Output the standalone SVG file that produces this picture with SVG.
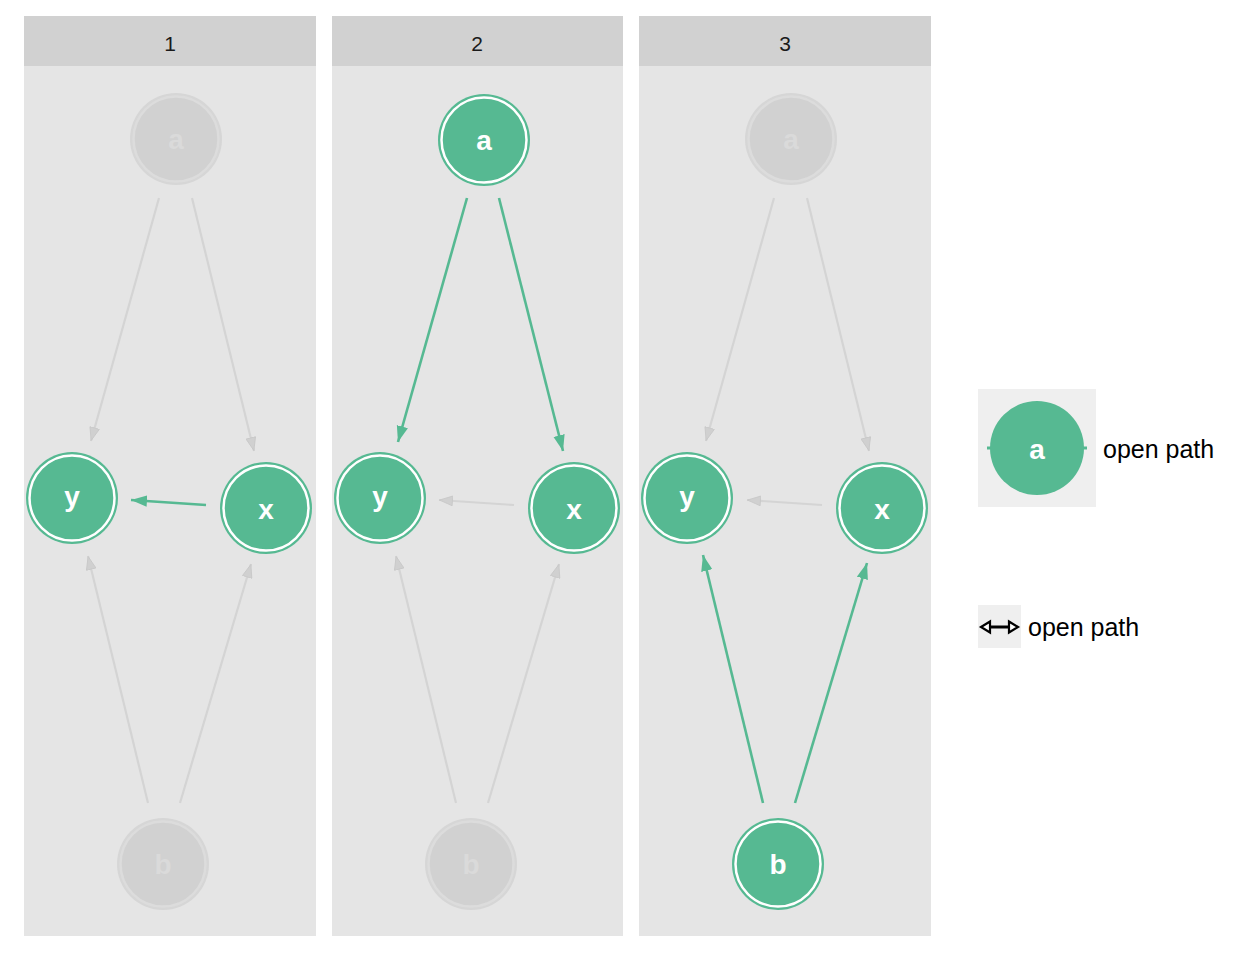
<svg xmlns="http://www.w3.org/2000/svg" width="1248" height="960" viewBox="0 0 1248 960">
  <style>
    .panel { fill: #E5E5E5; }
    .strip { fill: #D1D1D1; }
    .strip-text { fill: #1A1A1A; text-anchor: middle; }
    .on-outer { fill: #56B992; }
    .on-ring { fill: #56B992; stroke: #FFFFFF; stroke-width: 2.5; }
    .on-label { font-weight: bold; fill: #FFFFFF; text-anchor: middle; }
    .off-outer { fill: #D6D6D6; }
    .off-ring { fill: #D1D1D1; stroke: #DCDCDC; stroke-width: 2.5; }
    .off-label { font-weight: bold; fill: #DADADA; text-anchor: middle; }
    .edge-on { stroke: #56B992; stroke-width: 2.6; fill: none; marker-end: url(#head-on); }
    .edge-off { stroke: #D4D4D4; stroke-width: 2.2; fill: none; marker-end: url(#head-off); }
    .legend-key { fill: #EFEFEF; }
    .legend-text { fill: #000000; }
  </style>
  <defs>
    <marker id="head-on" markerUnits="userSpaceOnUse" markerWidth="16" markerHeight="12" viewBox="0 0 14 10" refX="14" refY="5" orient="auto">
      <path d="M0,0 L14,5 L0,10 Z" fill="#56B992"/>
    </marker>
    <marker id="head-off" markerUnits="userSpaceOnUse" markerWidth="14" markerHeight="11" viewBox="0 0 13 10" refX="13" refY="5" orient="auto">
      <path d="M0.5,0.5 L12.5,5 L0.5,9.5 Z" fill="#D0D0D0" stroke="#C8C8C8" stroke-width="0.8"/>
    </marker>
  </defs>

  <rect width="1248" height="960" fill="#FFFFFF"/>

  <!-- facet panels -->
  <g id="panels" font-family="Liberation Sans, Arial, sans-serif" font-size="21">
    <rect class="panel" x="24" y="66" width="292" height="870"/>
    <rect class="strip" x="24" y="16" width="292" height="50"/>
    <text class="strip-text" x="170" y="51">1</text>

    <rect class="panel" x="332" y="66" width="291" height="870"/>
    <rect class="strip" x="332" y="16" width="291" height="50"/>
    <text class="strip-text" x="477" y="51">2</text>

    <rect class="panel" x="639" y="66" width="292" height="870"/>
    <rect class="strip" x="639" y="16" width="292" height="50"/>
    <text class="strip-text" x="785" y="51">3</text>
  </g>

  <!-- connectors -->
  <g id="edges">
    <!-- panel 1 -->
    <line class="edge-off" x1="159" y1="198" x2="91" y2="441"/>
    <line class="edge-off" x1="192" y1="198" x2="254" y2="451"/>
    <line class="edge-off" x1="148" y1="803" x2="88" y2="556"/>
    <line class="edge-off" x1="180" y1="803" x2="251" y2="564"/>
    <line class="edge-on" x1="206" y1="505" x2="131" y2="500"/>
    <!-- panel 2 -->
    <line class="edge-on" x1="467" y1="198" x2="398" y2="442"/>
    <line class="edge-on" x1="499" y1="198" x2="563" y2="451"/>
    <line class="edge-off" x1="514" y1="505" x2="439" y2="500"/>
    <line class="edge-off" x1="456" y1="803" x2="396" y2="556"/>
    <line class="edge-off" x1="488" y1="803" x2="559" y2="564"/>
    <!-- panel 3 -->
    <line class="edge-off" x1="774" y1="198" x2="706" y2="441"/>
    <line class="edge-off" x1="807" y1="198" x2="869" y2="451"/>
    <line class="edge-off" x1="822" y1="505" x2="747" y2="500"/>
    <line class="edge-on" x1="763" y1="803" x2="703" y2="555"/>
    <line class="edge-on" x1="795" y1="803" x2="867" y2="563"/>
  </g>

  <g id="nodes" font-family="Liberation Sans, Arial, sans-serif" font-size="28">
    <!-- panel 1 nodes -->
    <g id="p1-a"><circle class="off-outer" cx="176" cy="139" r="46"/><circle class="off-ring" cx="176" cy="139" r="42.5"/><text class="off-label" x="176" y="149">a</text></g>
    <g id="p1-y"><circle class="on-outer" cx="72" cy="498" r="46"/><circle class="on-ring" cx="72" cy="498" r="42.5"/><text class="on-label" x="72" y="506">y</text></g>
    <g id="p1-x"><circle class="on-outer" cx="266" cy="508" r="46"/><circle class="on-ring" cx="266" cy="508" r="42.5"/><text class="on-label" x="266" y="519">x</text></g>
    <g id="p1-b"><circle class="off-outer" cx="163" cy="864" r="46"/><circle class="off-ring" cx="163" cy="864" r="42.5"/><text class="off-label" x="163" y="874">b</text></g>

    <!-- panel 2 nodes -->
    <g id="p2-a"><circle class="on-outer" cx="484" cy="140" r="46"/><circle class="on-ring" cx="484" cy="140" r="42.5"/><text class="on-label" x="484" y="150">a</text></g>
    <g id="p2-y"><circle class="on-outer" cx="380" cy="498" r="46"/><circle class="on-ring" cx="380" cy="498" r="42.5"/><text class="on-label" x="380" y="506">y</text></g>
    <g id="p2-x"><circle class="on-outer" cx="574" cy="508" r="46"/><circle class="on-ring" cx="574" cy="508" r="42.5"/><text class="on-label" x="574" y="519">x</text></g>
    <g id="p2-b"><circle class="off-outer" cx="471" cy="864" r="46"/><circle class="off-ring" cx="471" cy="864" r="42.5"/><text class="off-label" x="471" y="874">b</text></g>

    <!-- panel 3 nodes -->
    <g id="p3-a"><circle class="off-outer" cx="791" cy="139" r="46"/><circle class="off-ring" cx="791" cy="139" r="42.5"/><text class="off-label" x="791" y="149">a</text></g>
    <g id="p3-y"><circle class="on-outer" cx="687" cy="498" r="46"/><circle class="on-ring" cx="687" cy="498" r="42.5"/><text class="on-label" x="687" y="506">y</text></g>
    <g id="p3-x"><circle class="on-outer" cx="882" cy="508" r="46"/><circle class="on-ring" cx="882" cy="508" r="42.5"/><text class="on-label" x="882" y="519">x</text></g>
    <g id="p3-b"><circle class="on-outer" cx="778" cy="864" r="46"/><circle class="on-ring" cx="778" cy="864" r="42.5"/><text class="on-label" x="778" y="874">b</text></g>
  </g>

  <!-- legends -->
  <g id="legend-node" font-family="Liberation Sans, Arial, sans-serif">
    <rect class="legend-key" x="978" y="389" width="118" height="118"/>
    <line x1="987" y1="448" x2="1087" y2="448" stroke="#56B992" stroke-width="3"/>
    <circle cx="1037" cy="448" r="47" fill="#56B992"/>
    <text class="on-label" x="1037" y="459" font-size="28">a</text>
    <text class="legend-text" x="1103" y="458" font-size="25">open path</text>
  </g>
  <g id="legend-edge" font-family="Liberation Sans, Arial, sans-serif">
    <rect class="legend-key" x="978" y="605" width="43" height="43"/>
    <line x1="986" y1="627" x2="1012" y2="627" stroke="#000000" stroke-width="3"/>
    <path d="M981,627 L990,621.5 L990,632.5 Z" fill="#FFFFFF" stroke="#000000" stroke-width="2.2" stroke-linejoin="miter"/>
    <path d="M1018,627 L1009,621.5 L1009,632.5 Z" fill="#FFFFFF" stroke="#000000" stroke-width="2.2" stroke-linejoin="miter"/>
    <text class="legend-text" x="1028" y="636" font-size="25">open path</text>
  </g>
</svg>
